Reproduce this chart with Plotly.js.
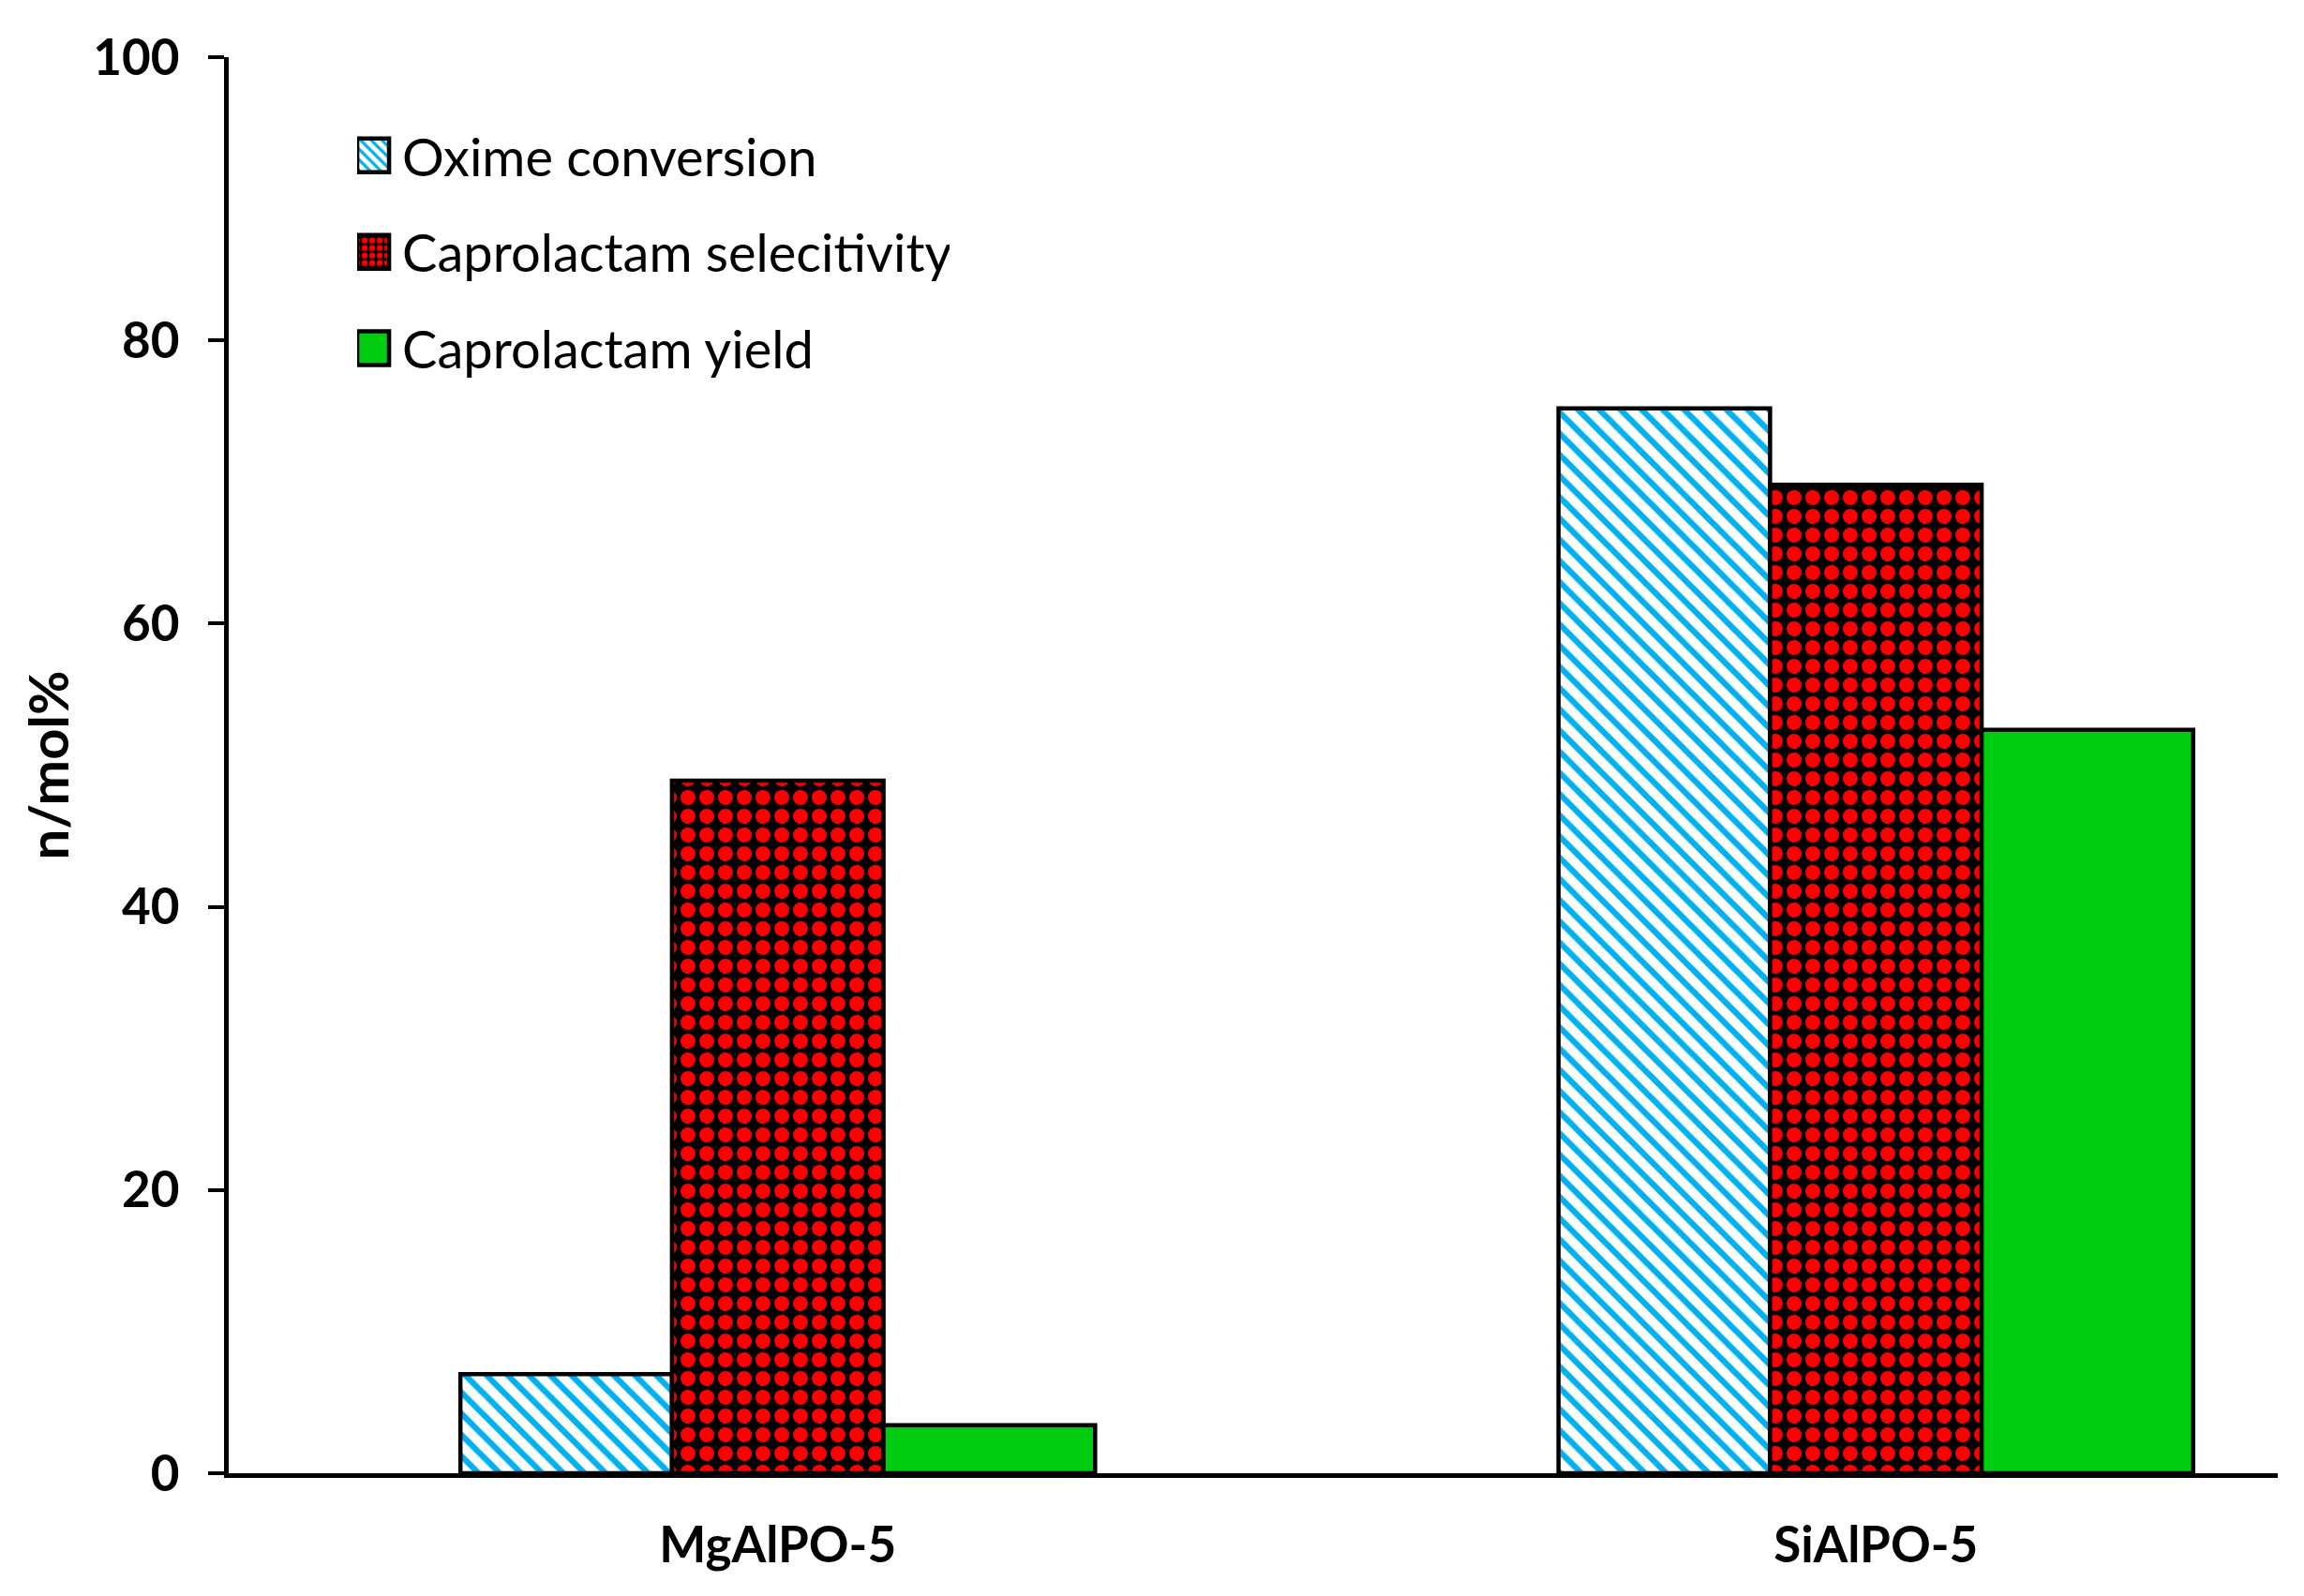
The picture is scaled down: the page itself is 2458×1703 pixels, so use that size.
<!DOCTYPE html>
<html lang="en">
<head>
    <meta charset="UTF-8">
    <title>Oxime conversion and caprolactam over AlPO-5 catalysts</title>
    <script src="https://cdn.plot.ly/plotly-3.0.1.min.js"></script>
    <style>
        * { margin: 0; padding: 0; box-sizing: border-box; }
        body { background: #ffffff; }
        #plot { width: 2458px; height: 1703px; }
    </style>
</head>
<body>
    <div id="plot"></div>

    <script>
        // values (mol%)
        const categories = ['MgAlPO-5', 'SiAlPO-5'];
        const seriesNames = ['Oxime conversion', 'Caprolactam selecitivity', 'Caprolactam yield'];
        const oximeConversion = [7.0, 75.2];
        const caprolactamSelectivity = [48.9, 69.8];
        const caprolactamYield = [3.4, 52.5];
        const yTicks = [0, 20, 40, 60, 80, 100];

        const FONT = 'Lato, "Noto Sans", "DejaVu Sans", sans-serif';
        const outline = { color: '#000000', width: 4.5 };

        const traces = [
            {
                x: categories,
                y: oximeConversion,
                name: seriesNames[0],
                legendgroup: 'a',
                type: 'bar',
                marker: {
                    color: '#ffffff',
                    line: outline,
                    pattern: { shape: '\\', fgcolor: '#00b0f0', bgcolor: '#ffffff', size: 16, solidity: 0.4 }
                }
            },
            {
                x: categories,
                y: caprolactamSelectivity,
                name: seriesNames[1],
                legendgroup: 'b',
                type: 'bar',
                marker: {
                    color: '#000000',
                    line: outline,
                    pattern: { shape: '.', fgcolor: '#ff0000', bgcolor: '#000000', size: 20, solidity: 0.5 }
                }
            },
            {
                x: categories,
                y: caprolactamYield,
                name: seriesNames[2],
                legendgroup: 'c',
                type: 'bar',
                marker: { color: '#00cc11', line: outline }
            }
        ];

        const layout = {
            width: 2458,
            height: 1703,
            margin: { l: 244, r: 28, t: 61, b: 131 },
            paper_bgcolor: '#ffffff',
            plot_bgcolor: '#ffffff',
            font: { family: FONT, color: '#000000' },
            barmode: 'group',
            bargap: 0.422,
            bargroupgap: 0,
            showlegend: true,
            legend: {
                x: 0.0627,
                y: 0.959,
                xanchor: 'left',
                yanchor: 'top',
                traceorder: 'grouped',
                tracegroupgap: 27,
                bgcolor: 'rgba(0,0,0,0)',
                font: { family: FONT, size: 56, color: '#000000' }
            },
            xaxis: {
                type: 'category',
                range: [-0.5, 1.366],
                showline: true,
                linecolor: '#000000',
                linewidth: 5,
                ticks: '',
                showgrid: false,
                zeroline: false,
                ticklabelstandoff: 26,
                tickfont: { family: FONT, size: 53, color: '#000000', weight: 'bold' }
            },
            yaxis: {
                range: [0, 100],
                tickvals: yTicks,
                ticktext: yTicks.map(String),
                showline: true,
                linecolor: '#000000',
                linewidth: 5,
                ticks: 'outside',
                ticklen: 17,
                tickwidth: 4,
                tickcolor: '#000000',
                showgrid: false,
                zeroline: false,
                ticklabelstandoff: 20,
                tickfont: { family: FONT, size: 53, color: '#000000', weight: 'bold' },
                title: {
                    text: 'n/mol%',
                    standoff: 8,
                    font: { family: FONT, size: 58, color: '#000000', weight: 'bold' }
                }
            }
        };

        const config = { displayModeBar: false, staticPlot: true };

        // make the legend swatches as big as in the original figure,
        // and push the labels a bit to the right of them
        function styleLegend() {
            document.querySelectorAll('#plot .legend .legendpoints path').forEach(p => {
                p.setAttribute('d', 'M14,18H-20V-18H14Z');
            });
            document.querySelectorAll('#plot .legend text.legendtext').forEach(t => {
                if (!t.dataset.shifted) {
                    t.setAttribute('x', parseFloat(t.getAttribute('x') || 0) + 8);
                    t.dataset.shifted = '1';
                }
            });
        }

        Plotly.newPlot('plot', traces, layout, config).then(gd => {
            styleLegend();
            gd.on('plotly_afterplot', styleLegend);
        });
    </script>
</body>
</html>
